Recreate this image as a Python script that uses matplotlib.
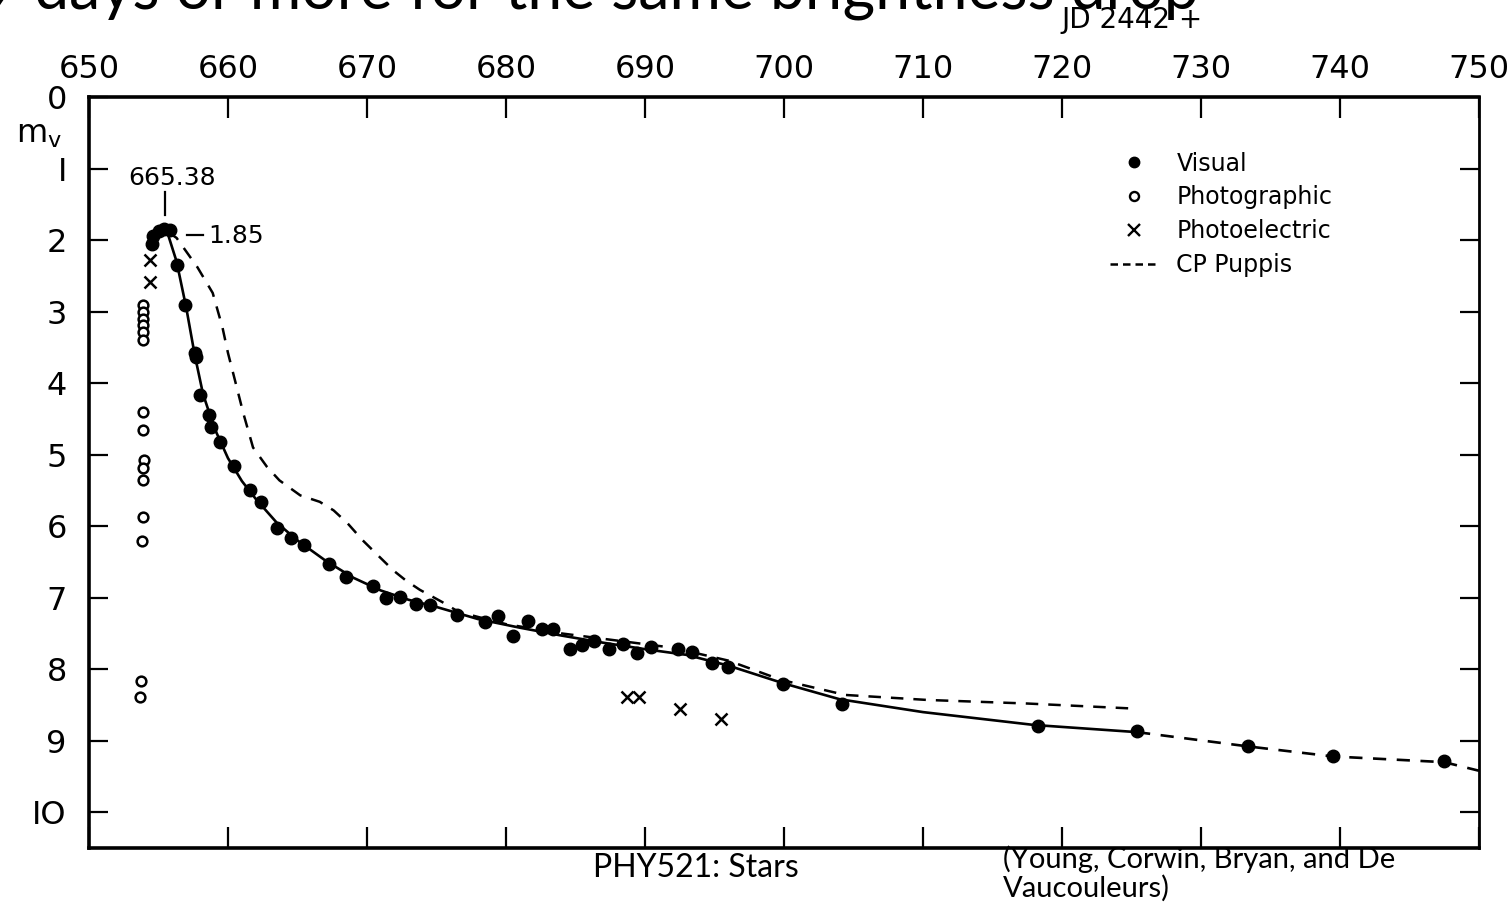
import matplotlib
matplotlib.use("Agg")
import matplotlib.pyplot as plt
from matplotlib.lines import Line2D

# ---------------- data (JD 2442 + , visual magnitude) ----------------
visual_jd = [654.5, 654.6, 655.0, 655.4, 655.8, 656.3, 656.9, 657.6, 657.7, 658.0,
             658.6, 658.8, 659.4, 660.4, 661.6, 662.4, 663.5, 664.5, 665.5, 667.3,
             668.5, 670.4, 671.4, 672.4, 673.5, 674.5, 676.5, 678.5, 679.4, 680.5,
             681.6, 682.6, 683.4, 684.6, 685.5, 686.3, 687.4, 688.4, 689.4, 690.4,
             692.4, 693.4, 694.8, 696.0, 699.9, 704.2, 718.3, 725.4, 733.4, 739.5,
             747.5]
visual_mag = [2.05, 1.95, 1.88, 1.85, 1.86, 2.35, 2.91, 3.58, 3.64, 4.17,
              4.45, 4.62, 4.83, 5.16, 5.50, 5.66, 6.03, 6.17, 6.27, 6.53,
              6.71, 6.83, 7.00, 6.99, 7.09, 7.10, 7.24, 7.34, 7.26, 7.54,
              7.33, 7.44, 7.44, 7.72, 7.66, 7.61, 7.72, 7.65, 7.78, 7.69,
              7.72, 7.76, 7.92, 7.97, 8.21, 8.48, 8.80, 8.87, 9.08, 9.22,
              9.29]

photographic_jd = [653.9, 653.9, 653.9, 653.9, 653.9, 653.9, 653.9, 653.9, 653.95,
                   653.85, 653.9, 653.85, 653.8, 653.75, 653.7]
photographic_mag = [2.91, 3.01, 3.10, 3.19, 3.29, 3.40, 4.41, 4.66, 5.08,
                    5.19, 5.36, 5.87, 6.21, 8.17, 8.39]

photoelectric_jd = [654.4, 654.4, 688.7, 689.6, 692.5, 695.5]
photoelectric_mag = [2.28, 2.59, 8.39, 8.39, 8.55, 8.69]

# smooth mean light curve through the visual points (solid part, then dashed)
curve_jd = [655.6, 656.3, 657.0, 657.6, 658.2, 659.0, 660.0, 661.0, 662.0, 663.5,
            665.0, 667.0, 669.0, 671.0, 673.0, 675.0, 678.0, 681.0, 684.0, 687.0,
            690.0, 693.0, 696.0, 700.0, 704.0, 710.0, 718.0, 725.4]
curve_mag = [1.87, 2.30, 2.95, 3.60, 4.15, 4.62, 5.05, 5.37, 5.62, 5.95,
             6.20, 6.48, 6.72, 6.90, 7.03, 7.13, 7.30, 7.42, 7.53, 7.63,
             7.72, 7.80, 7.95, 8.20, 8.42, 8.60, 8.78, 8.88]
ext_jd = [725.4, 733.4, 739.5, 747.5, 750.0]
ext_mag = [8.88, 9.08, 9.22, 9.30, 9.42]

# CP Puppis comparison curve
cppup_jd = [655.7, 656.3, 657.8, 658.9, 659.6, 660.0, 660.5, 661.1, 661.8, 662.8,
            663.7, 665.2, 666.6, 667.6, 668.6, 669.7, 670.9, 671.9, 672.8, 673.8,
            675.4, 676.6, 680.0, 684.0, 688.0, 692.0, 696.0, 699.8, 704.4, 710.3,
            717.5, 725.1]
cppup_mag = [1.89, 1.97, 2.38, 2.74, 3.22, 3.58, 3.96, 4.42, 4.90, 5.17,
             5.36, 5.57, 5.66, 5.78, 5.96, 6.20, 6.43, 6.62, 6.76, 6.89,
             7.06, 7.20, 7.37, 7.50, 7.60, 7.70, 7.88, 8.15, 8.36, 8.43,
             8.48, 8.55]

peak_label = "665.38"
peak_mag_label = "1.85"
peak_jd, peak_mag = 655.45, 1.85

x_ticks = [650, 660, 670, 680, 690, 700, 710, 720, 730, 740, 750]
y_ticks = [0, 1, 2, 3, 4, 5, 6, 7, 8, 9, 10]
y_ticklabels = ["0", "I", "2", "3", "4", "5", "6", "7", "8", "9", "IO"]

# ---------------- figure ----------------
W, H = 1511, 906
fig = plt.figure(figsize=(W / 100, H / 100), dpi=100)
fig.patch.set_facecolor("white")
ax = fig.add_axes([89 / W, (H - 848) / H, 1390 / W, 751 / H])

ax.set_xlim(650, 750)
ax.set_ylim(10.5, 0)

for s in ax.spines.values():
    s.set_linewidth(2.6)
ax.spines["right"].set_linewidth(2.0)

ax.xaxis.tick_top()
ax.set_xticks(x_ticks)
ax.set_xticklabels([str(t) for t in x_ticks])
ax.tick_params(axis="x", which="major", direction="in", top=True, bottom=True,
               labeltop=True, labelbottom=False, length=15, width=1.6,
               labelsize=23, pad=9)
ax.set_yticks(y_ticks)
ax.set_yticklabels(y_ticklabels)
ax.tick_params(axis="y", which="major", direction="in", left=True, right=True,
               length=14, width=1.6, labelsize=23, pad=16)

# curves
ax.plot(curve_jd, curve_mag, color="black", lw=1.9, solid_capstyle="butt", zorder=2)
ax.plot(ext_jd, ext_mag, color="black", lw=1.9, dashes=(5, 4), zorder=2)
ax.plot(cppup_jd, cppup_mag, color="black", lw=1.8, dashes=(5, 4), zorder=2)

# points
ax.plot(visual_jd, visual_mag, "o", color="black", ms=9, zorder=4, clip_on=False)
ax.plot(photographic_jd, photographic_mag, "o", mfc="white", mec="black",
        mew=1.8, ms=7, zorder=4)
ax.plot(photoelectric_jd, photoelectric_mag, "x", color="black", mew=1.8,
        ms=9, zorder=4)

# peak annotation
ax.plot([peak_jd, peak_jd], [1.33, 1.65], color="black", lw=1.6)
ax.text(peak_jd + 0.5, 1.13, peak_label, ha="center", va="center", fontsize=18)
ax.plot([657.05, 658.2], [1.93, 1.93], color="black", lw=1.6)
ax.text(658.6, 1.95, peak_mag_label, ha="left", va="center", fontsize=18)

# m_v label
ax.text(-0.036, 0.95, r"m$_\mathregular{v}$", transform=ax.transAxes,
        ha="center", va="center", fontsize=23)

# legend
handles = [
    Line2D([], [], ls="none", marker="o", color="black", ms=7.5),
    Line2D([], [], ls="none", marker="o", mfc="white", mec="black", mew=1.7, ms=6.5),
    Line2D([], [], ls="none", marker="x", color="black", mew=1.7, ms=8.5),
    Line2D([], [], color="black", lw=1.8, dashes=(3, 2)),
]
labels = ["Visual", "Photographic", "Photoelectric", "CP Puppis"]
ax.legend(handles, labels, loc="upper left", bbox_to_anchor=(0.728, 0.94),
          frameon=False, fontsize=17, handlelength=2.0, handletextpad=0.8,
          labelspacing=0.42, borderaxespad=0)

# JD label
fig.text(1132 / W, 1 - 20 / H, "JD 2442 +", ha="center", va="center", fontsize=20)

# slide title (cut off at top, as in the slide)
fig.text(-18 / W, 1 - 8 / H, "9 days or more for the same brightness drop",
         ha="left", va="baseline", fontsize=45, family="Lato")

# slide footer
fig.text(696 / W, 1 - 868 / H, "PHY521: Stars", ha="center", va="center",
         fontsize=23, family="Lato")
fig.text(1003 / W, 1 - 845 / H, "(Young, Corwin, Bryan, and De\nVaucouleurs)",
         ha="left", va="top", fontsize=21, family="Lato", linespacing=1.1)

fig.savefig("out.png", dpi=100, facecolor="white")
